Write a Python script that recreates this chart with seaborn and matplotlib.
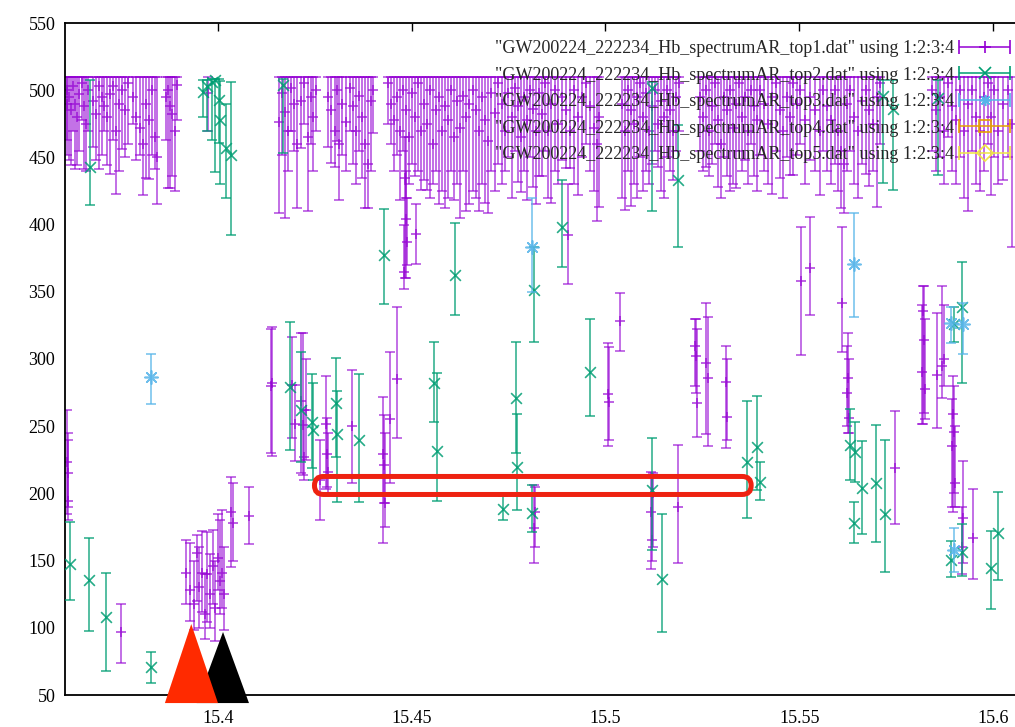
import numpy as np
import pandas as pd
import matplotlib
matplotlib.use('Agg')
import matplotlib.pyplot as plt
import seaborn as sns
from matplotlib.patches import Polygon, FancyBboxPatch
from matplotlib.transforms import IdentityTransform
from matplotlib.container import ErrorbarContainer
from matplotlib.legend_handler import HandlerErrorbar

# --- dados (x, y, y_min, y_max) ---

# top1: faixa densa no alto (todas as barras sobem até o mesmo limite)
band_hi = 509.5
band_x = [15.3610, 15.3611, 15.3616, 15.3621, 15.3626, 15.3631, 15.3636, 15.3641, 15.3649, 15.3654,
          15.3659, 15.3665, 15.3678, 15.3685, 15.3693, 15.3701, 15.3706, 15.3714, 15.3721, 15.3729,
          15.3737, 15.3745, 15.3752, 15.3760, 15.3768,
          15.3781, 15.3788, 15.3799, 15.3806, 15.3814, 15.3822, 15.3830, 15.3837, 15.3843,
          15.3866, 15.3871, 15.3876, 15.3881, 15.3889, 15.3894, 15.3974,
          15.4157, 15.4165, 15.4173, 15.4181, 15.4188, 15.4196, 15.4204, 15.4214, 15.4222, 15.4232,
          15.4240, 15.4245, 15.4253,
          15.4284, 15.4292, 15.4302, 15.4307, 15.4312, 15.4320, 15.4330, 15.4341, 15.4348, 15.4356,
          15.4364, 15.4372, 15.4379, 15.4387, 15.4395, 15.4400,
          15.4439, 15.4446, 15.4454, 15.4462, 15.4470, 15.4477, 15.4485, 15.4493, 15.4501, 15.4508,
          15.4516, 15.4524, 15.4531, 15.4539, 15.4547, 15.4555, 15.4562, 15.4570, 15.4578, 15.4586,
          15.4593, 15.4601, 15.4609, 15.4617, 15.4624, 15.4632, 15.4640, 15.4648,
          15.4658, 15.4666, 15.4673, 15.4681, 15.4689, 15.4697, 15.4704, 15.4715, 15.4722, 15.4733,
          15.4740, 15.4748, 15.4759, 15.4766, 15.4774, 15.4782, 15.4789, 15.4797, 15.4805, 15.4813,
          15.4820, 15.4828, 15.4836, 15.4844, 15.4851, 15.4859, 15.4869, 15.4877, 15.4888, 15.4898,
          15.4908, 15.4918, 15.4929, 15.4939, 15.4949, 15.4960, 15.4970, 15.4978, 15.4983,
          15.5042, 15.5050, 15.5058, 15.5066, 15.5073, 15.5081, 15.5089, 15.5097, 15.5104, 15.5112,
          15.5120, 15.5127, 15.5135, 15.5143, 15.5151, 15.5158, 15.5166, 15.5174, 15.5182, 15.5189,
          15.5244, 15.5251, 15.5259, 15.5267, 15.5275, 15.5282, 15.5290, 15.5298, 15.5305, 15.5313,
          15.5321, 15.5329, 15.5336, 15.5344, 15.5352, 15.5360, 15.5367, 15.5375, 15.5383, 15.5391,
          15.5398, 15.5409, 15.5419, 15.5429, 15.5440, 15.5450,
          15.5458, 15.5468, 15.5476, 15.5484, 15.5494, 15.5502, 15.5514, 15.5527, 15.5540, 15.5553,
          15.5561, 15.5571, 15.5582, 15.5592, 15.5600, 15.5607, 15.5615, 15.5623, 15.5631, 15.5641,
          15.5651, 15.5662, 15.5672, 15.5680, 15.5690, 15.5700, 15.5708,
          15.5842, 15.5852, 15.5863, 15.5873, 15.5883, 15.5894, 15.5904, 15.5914, 15.5925, 15.5935,
          15.5945, 15.5956, 15.5966, 15.5976, 15.5987, 15.5994, 15.6002, 15.6012, 15.6025, 15.6038,
          15.6049]
band_y = [490, 500, 495, 485, 503, 490, 480, 497, 505, 488, 475, 500, 492, 482, 503, 495, 488, 480, 497, 503,
          470, 490, 500, 485, 505,
          495, 480, 472, 460, 490, 478, 500, 465, 450,
          495, 500, 488, 482, 470, 504, 498,
          476, 498, 484, 470, 502, 490, 460, 492, 505, 465, 495, 480, 500,
          495, 485, 470, 500, 460, 490, 476, 502, 488, 470, 496, 480, 460, 445, 492, 500,
          505, 490, 478, 495, 470, 500, 485, 465, 498, 480, 505, 470, 490, 475, 500, 460, 485, 495,
          470, 488, 478, 500, 465, 492, 472, 496, 480, 490,
          500, 485, 470, 495, 478, 462, 498, 483, 505, 490, 470, 498, 480, 502, 488, 465, 495, 478,
          500, 486, 470, 498, 482, 505, 470, 490, 500, 475, 495, 485, 470, 500, 480, 495, 505, 488,
          472, 460, 480,
          490, 470, 500, 485, 475, 495, 505, 480, 498, 470, 488, 500, 475, 492, 480, 500, 485, 470,
          495, 505,
          495, 480, 500, 470, 488, 505, 478, 460, 495, 485, 500, 472, 490, 505, 480, 495, 470, 500,
          488, 478, 500, 490, 475, 495, 505, 485,
          470, 495, 480, 505, 490, 500, 478, 495, 485, 470, 500, 488, 478, 500, 470, 455, 445, 490,
          500, 480, 470, 492, 500, 485, 475, 495, 505,
          500, 485, 495, 470, 505, 488, 478, 500, 470, 490, 500, 480, 470, 495, 505, 480, 500, 470,
          490, 500, 475]
band_lo = [452, 463, 448, 444, 470, 441, 444, 455, 478, 441, 440, 470, 458, 448, 441, 452, 470, 444, 438, 463,
           423, 440, 456, 450, 460,
           475, 448, 452, 422, 435, 434, 452, 441, 415,
           463, 427, 427, 436, 425, 478, 470,
           409, 452, 405, 440, 470, 455, 412, 457, 475, 410, 460, 440, 470,
           458, 446, 443, 462, 418, 452, 440, 470, 445, 430, 455, 435, 412, 412, 440, 468,
           475, 460, 440, 452, 418, 455, 420, 430, 445, 436, 440, 426, 433, 426, 420, 430, 440, 415,
           425, 412, 420, 440, 418, 430, 405, 440, 410, 415,
           425, 420, 410, 430, 416, 409, 440, 425, 445, 430, 440, 450, 420, 455, 432, 424, 440, 418,
           450, 428, 415, 436, 436, 455, 420, 416, 440, 430, 448, 442, 442, 430, 422, 450, 460, 440,
           425, 403, 413,
           420, 411, 440, 414, 430, 420, 450, 425, 440, 430, 445, 455, 443, 425, 420, 450, 440, 433,
           455, 470,
           455, 440, 443, 436, 445, 460, 428, 420, 450, 436, 425, 430, 427, 455, 440, 448, 430, 460,
           436, 425, 452, 440, 430, 423, 455, 435,
           420, 450, 437, 437, 452, 460, 430, 448, 440, 422, 455, 440, 430, 445, 425, 412, 409, 440,
           455, 430, 420, 445, 438, 429, 440, 413, 460,
           455, 440, 450, 430, 465, 440, 430, 450, 420, 410, 455, 430, 425, 440, 460, 422, 450, 430,
           433, 450, 383]

# top1: pontos isolados abaixo da faixa
low_x = [15.3610, 15.3612, 15.3614, 15.3750,
         15.3917, 15.3928, 15.3938, 15.3946, 15.3951, 15.3959, 15.3966, 15.3972, 15.3979, 15.3987,
         15.3992, 15.4000, 15.4005, 15.4010, 15.4015, 15.4034, 15.4039, 15.4080,
         15.4137, 15.4139, 15.4191, 15.4199, 15.4214, 15.4219, 15.4222, 15.4227, 15.4263, 15.4279,
         15.4281, 15.4284, 15.4346, 15.4426, 15.4428, 15.4431, 15.4444, 15.4462, 15.4480, 15.4482,
         15.4485, 15.4488, 15.4511,
         15.4815, 15.4818, 15.4903, 15.5006, 15.5009, 15.5037, 15.5117, 15.5120, 15.5122, 15.5187,
         15.5231, 15.5233, 15.5236, 15.5259, 15.5264, 15.5311, 15.5313,
         15.5504, 15.5527, 15.5610, 15.5623, 15.5625, 15.5628, 15.5747, 15.5816, 15.5819, 15.5821,
         15.5824, 15.5855, 15.5868, 15.5873, 15.5894, 15.5896, 15.5899, 15.5901, 15.5920, 15.5922,
         15.5948]
low_y = [223, 215, 194, 97,
         141, 128, 118, 156, 130, 141, 110, 140, 125, 146, 115, 152, 135, 141, 125, 186, 178, 183,
         280, 282, 281, 252, 269, 251, 227, 262, 210, 252, 229, 216, 250, 229, 221, 193, 255, 285,
         365, 435, 404, 387, 393,
         174, 186, 392, 274, 268, 328, 186, 165, 200, 190, 310, 302, 267, 297, 286, 283, 257,
         358, 368, 342, 275, 286, 256, 219, 290, 336, 314, 278, 288, 295, 300, 235, 259, 246, 208,
         160, 182, 167]
low_lo = [185, 190, 180, 74,
          118, 105, 98, 120, 100, 112, 92, 104, 100, 118, 90, 128, 110, 115, 98, 145, 150, 162,
          230, 228, 241, 224, 215, 214, 210, 225, 180, 203, 205, 200, 208, 163, 193, 175, 208, 241,
          352, 360, 360, 370, 371,
          148, 160, 356, 235, 240, 306, 144, 150, 160, 148, 280, 275, 242, 244, 235, 234, 240,
          303, 333, 305, 250, 245, 245, 177, 252, 252, 260, 255, 249, 271, 280, 190, 186, 200, 190,
          140, 148, 136]
low_hi = [262, 245, 240, 118,
          165, 163, 150, 169, 160, 172, 140, 171, 155, 173, 150, 185, 180, 188, 160, 212, 208, 205,
          322, 324, 316, 281, 319, 319, 262, 300, 240, 287, 256, 245, 292, 272, 258, 245, 305, 339,
          400, 465, 440, 420, 415,
          206, 205, 430, 312, 309, 349, 216, 212, 215, 236, 330, 330, 322, 342, 331, 310, 300,
          398, 406, 398, 310, 319, 300, 261, 340, 354, 354, 330, 334, 354, 340, 270, 287, 280, 250,
          190, 224, 203]

# top2
top2_x = [15.3618, 15.3667, 15.3670, 15.3710, 15.3827, 15.3961, 15.3972, 15.3985, 15.3992, 15.4003,
          15.4005, 15.4021, 15.4034, 15.4168, 15.4186, 15.4213, 15.4242, 15.4244, 15.4304, 15.4307,
          15.4364, 15.4428, 15.4557, 15.4565, 15.4611, 15.4735, 15.4769, 15.4771, 15.4810, 15.4815,
          15.4888, 15.4960, 15.5120, 15.5120, 15.5146, 15.5187, 15.5365, 15.5391, 15.5398, 15.5631,
          15.5641, 15.5643, 15.5662, 15.5698, 15.5716, 15.5721, 15.5742, 15.5858, 15.5891, 15.5899,
          15.5920, 15.5920, 15.5994, 15.6012]
top2_y = [147.5, 135.6, 443, 108, 70.8, 498.7, 503, 506, 507.6, 493,
          478, 457, 452, 504, 279, 262, 253, 247, 267, 244,
          239.7, 377.6, 282, 231.5, 362.5, 188.4, 271, 220, 185.4, 351,
          398, 290, 502, 202.5, 136, 433, 223, 234.5, 208.5, 236,
          178, 230.8, 204, 207.7, 496, 184.7, 486, 494, 150.4, 326,
          338.7, 156.4, 144.5, 170.5]
top2_lo = [120.7, 97.6, 414.6, 67.9, 59, 480, 470, 463, 439, 460.7,
           430, 420, 392, 453, 232, 223, 219, 210, 227, 193.6,
           193.6, 341, 253, 194, 332.7, 180, 230, 187.6, 171, 312.6,
           368.5, 257.6, 410, 158, 97, 383, 181.7, 202.5, 195, 210,
           163, 208.5, 169.8, 164, 431, 141.5, 425.7, 437, 137.8, 312.6,
           282, 138.5, 114, 135.6]
top2_hi = [178.7, 166.8, 507.6, 140.8, 82, 507.6, 507.6, 508, 508, 508,
           507, 490, 506, 508, 327.5, 305, 288.8, 282, 301, 276,
           288.8, 411.6, 313, 289.6, 401, 198, 313, 259, 206, 383,
           433, 329.8, 506, 241, 185, 474, 268.7, 272.5, 223, 262.8,
           193.6, 253, 239, 251, 507.6, 239.7, 507.6, 507.6, 164.6, 338.7,
           372, 177, 172, 201]

# top3
top3_x = [15.3827, 15.4810, 15.5641, 15.5891, 15.5899, 15.5922]
top3_y = [286.6, 383, 370.7, 326.8, 158, 326]
top3_lo = [266.5, 350, 331, 312, 141.5, 303.7]
top3_hi = [303.7, 420, 409, 339, 174, 342]

# top4 e top5 não têm pontos visíveis na janela
top4_x, top4_y, top4_lo, top4_hi = [], [], [], []
top5_x, top5_y, top5_lo, top5_hi = [], [], [], []

labels = ['"GW200224_222234_Hb_spectrumAR_top%d.dat" using 1:2:3:4' % i for i in range(1, 6)]
colors = ['#9400d3', '#009e73', '#56b4e9', '#e69f00', '#f0e442']
markers = ['+', 'x', (8, 2, 0), 's', 'D']

# anotações (triângulos e caixa vermelha)
red_tri = [(15.3863, 44.0), (15.4000, 44.0), (15.3931, 102.8)]
black_tri = [(15.3945, 44.0), (15.4080, 44.0), (15.4013, 96.9)]
box_x = (15.4249, 15.5376)
box_y = (199.2, 212.6)

# --- figura ---
sns.set_theme(style='white')
plt.rcParams['font.family'] = ['Liberation Serif', 'DejaVu Serif']

fig = plt.figure(figsize=(10.15, 7.27), dpi=100)
ax = fig.add_axes([65 / 1015, 32 / 727, 952 / 1015, 672 / 727])

top1_x = band_x + low_x
top1_y = band_y + low_y
top1_lo = band_lo + low_lo
top1_hi = [band_hi] * len(band_x) + low_hi

series = [
    (top1_x, top1_y, top1_lo, top1_hi, 0.72, 55),
    (top2_x, top2_y, top2_lo, top2_hi, 0.85, 60),
    (top3_x, top3_y, top3_lo, top3_hi, 0.85, 90),
    (top4_x, top4_y, top4_lo, top4_hi, 0.9, 50),
    (top5_x, top5_y, top5_lo, top5_hi, 0.9, 50),
]

for i, (x, y, lo, hi, alpha, size) in enumerate(series):
    if len(x) == 0:
        continue
    y = np.array(y, dtype=float)
    yerr = [y - np.array(lo, dtype=float), np.array(hi, dtype=float) - y]
    ax.errorbar(x, y, yerr=yerr, fmt='none', ecolor=colors[i], elinewidth=1.1,
                capsize=3.5, capthick=1.1, alpha=alpha, zorder=2 + i)
    df = pd.DataFrame({'x': x, 'y': y})
    sns.scatterplot(data=df, x='x', y='y', marker=markers[i], color=colors[i], s=size,
                    linewidth=1.2, alpha=alpha, ax=ax, legend=False, zorder=2 + i)

ax.set_xlim(15.36052, 15.6062)
ax.set_ylim(50, 550)
ax.set_xticks([15.4, 15.45, 15.5, 15.55, 15.6])
ax.set_xticklabels(['15.4', '15.45', '15.5', '15.55', '15.6'])
ax.set_yticks(range(50, 551, 50))
ax.set_xlabel('')
ax.set_ylabel('')
ax.tick_params(direction='in', length=6, width=1.0, top=True, right=False,
               labelsize=13, colors='black')
ax.tick_params(axis='x', pad=11)
ax.tick_params(axis='y', pad=7)
for s in ax.spines.values():
    s.set_color('black')
    s.set_linewidth(1.3)

# legenda no estilo do gnuplot (texto à esquerda, amostra à direita)
handles = []
for i in range(5):
    h = ax.errorbar([np.nan], [np.nan], xerr=[[0.0], [0.0]], color=colors[i], marker=markers[i],
                    mfc='none', ms=8, mew=1.2, ls='none', capsize=5, elinewidth=1.1, capthick=1.1)
    handles.append(h)
leg = ax.legend(handles, labels, loc='upper right',
                bbox_to_anchor=(1010 / 1015, (727 - 40) / 727), bbox_transform=fig.transFigure,
                frameon=False, markerfirst=False, handlelength=2.8, handletextpad=0.3,
                borderpad=0, borderaxespad=0, labelspacing=0.53, fontsize=13,
                handler_map={ErrorbarContainer: HandlerErrorbar(xerr_size=1.4)})
leg.set_zorder(20)

ax.add_patch(Polygon(black_tri, closed=True, fc='black', ec='none', clip_on=False, zorder=15))
ax.add_patch(Polygon(red_tri, closed=True, fc='#ff2a00', ec='none', clip_on=False, zorder=16))

(bx0, by0) = ax.transData.transform((box_x[0], box_y[0]))
(bx1, by1) = ax.transData.transform((box_x[1], box_y[1]))
box = FancyBboxPatch((bx0, by0), bx1 - bx0, by1 - by0,
                     boxstyle='round,pad=0,rounding_size=%f' % ((by1 - by0) / 2),
                     transform=IdentityTransform(), fill=False, ec='#ee2211', lw=3.6, zorder=17)
ax.add_artist(box)

fig.savefig('out.png', dpi=100)
